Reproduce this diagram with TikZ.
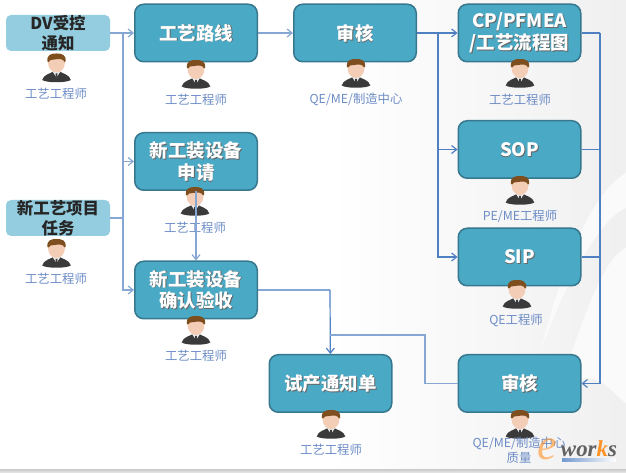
\documentclass[tikz,border=0pt]{standalone}
\usepackage{fontspec}
\setmainfont{Noto Sans CJK SC}
\newfontfamily\logofont{Liberation Serif}
\usepackage{xcolor}
\usetikzlibrary{arrows.meta}
\usetikzlibrary{positioning}
\usetikzlibrary{calc}
\definecolor{boxfill}{HTML}{4AA9C5}
\definecolor{boxline}{HTML}{37788F}
\definecolor{startfill}{HTML}{94CDE0}
\definecolor{rolecol}{HTML}{6C8CC6}
\definecolor{linecol}{HTML}{86A6D4}
\definecolor{linedark}{HTML}{4F80C2}
\definecolor{haircol}{HTML}{7E4E1E}
\definecolor{skincol}{HTML}{F3CDB6}
\definecolor{suitcol}{HTML}{3A3A3A}
\tikzset{
  proc/.style={draw=boxline,line width=1.5bp,fill=boxfill,rounded corners=9bp,minimum width=122.5bp,minimum height=57.5bp,outer sep=.75bp},
  start/.style={fill=startfill,rounded corners=5bp,minimum width=104bp,minimum height=36bp,outer sep=0pt},
  proctxt/.style={text=white,align=center,inner sep=0pt,font=\fontsize{18.5}{22}\selectfont\bfseries},
  starttxt/.style={text=black!85,align=center,inner sep=0pt,font=\fontsize{16.5}{20}\selectfont\bfseries},
  role/.style={text=rolecol,align=center,inner sep=0pt,font=\fontsize{12.4}{15}\selectfont},
  conn/.style={draw=linecol,line width=1.2bp},
  connd/.style={draw=linedark,line width=1.2bp},
  tip/.style={-{Straight Barb[length=5bp,width=8bp]}},
  person/.pic={
    \fill[suitcol] (-14.3bp,-26.5bp) .. controls (-13bp,-21bp) and (-6bp,-20bp) .. (-3bp,-18bp) -- (3bp,-18bp)
      .. controls (6bp,-20bp) and (13bp,-21bp) .. (14.3bp,-26.5bp) .. controls (10bp,-29.5bp) and (-10bp,-29.5bp) .. cycle;
    \fill[white!92!black] (-4bp,-18bp) -- (4bp,-18bp) -- (0bp,-24bp) -- cycle;
    \fill[suitcol] (-1bp,-20bp) -- (1bp,-20bp) -- (.8bp,-24bp) -- (-.8bp,-24bp) -- cycle;
    \fill[skincol] (0bp,-9.5bp) ellipse [x radius=8.4bp,y radius=9.5bp];
    \fill[haircol] (-9bp,-8bp) .. controls (-10bp,-1bp) and (-5bp,0bp) .. (0bp,0bp)
      .. controls (5bp,0bp) and (10bp,-1bp) .. (9bp,-8bp) -- (8bp,-8.5bp) .. controls (7bp,-5.5bp) and (3bp,-5bp) .. (-2bp,-6bp)
      .. controls (-5bp,-6.5bp) and (-7bp,-6bp) .. (-8bp,-8.5bp) -- cycle;
  },
}
\newcommand{\procnode}[3]{
  \node (#1) at (#2) [proc] {};
  \node (#1_s) at ($(#1)+(.9bp,-.9bp)$) [proctxt,text=black!60] {#3};
  \node (#1_t) at (#1) [proctxt] {#3};
}
\begin{document}
\begin{tikzpicture}
\useasboundingbox (0bp,0bp) rectangle (626bp,473bp);
%% background
\shade[left color=white,right color=black!6,shading angle=90] (330bp,3bp) rectangle (626bp,473bp);
\fill[black!2] (626bp,300bp) .. controls (590bp,280bp) and (560bp,200bp) .. (540bp,120bp) .. controls (565bp,190bp) and (600bp,255bp) .. (626bp,265bp) -- cycle;
\fill[black!2] (626bp,225bp) .. controls (600bp,215bp) and (575bp,130bp) .. (555bp,70bp) .. controls (590bp,120bp) and (610bp,80bp) .. (626bp,70bp) -- cycle;
\shade[top color=black!18,bottom color=black!8] (0bp,0bp) rectangle (626bp,3bp);
%% start boxes
\node (dv) at (58bp,440bp) [start] {};
\node (dv_t) at (dv) [starttxt] {DV受控\\通知};
\node (xm) at (58bp,255bp) [start] {};
\node (xm_t) at (xm) [starttxt] {新工艺项目\\任务};
%% process boxes
\procnode{lx}{196bp,440bp}{工艺路线}
\procnode{sq}{196bp,311.5bp}{新工装设备\\申请}
\procnode{qr}{196bp,183bp}{新工装设备\\确认验收}
\procnode{sh_a}{355bp,440bp}{审核}
\procnode{cp}{519.5bp,440bp}{CP/PFMEA\\/工艺流程图}
\procnode{sop}{519.5bp,323.5bp}{SOP}
\procnode{sip}{519.5bp,216bp}{SIP}
\procnode{sh_b}{519.5bp,89.5bp}{审核}
\procnode{sc}{330.5bp,89.5bp}{试产通知单}
%% people
\pic at (56.5bp,419.5bp) {person};
\pic at (196bp,413bp) {person};
\pic at (195bp,286bp) {person};
\pic at (56.5bp,234bp) {person};
\pic at (196bp,157bp) {person};
\pic at (356bp,414bp) {person};
\pic at (520bp,414bp) {person};
\pic at (520bp,297bp) {person};
\pic at (517bp,193bp) {person};
\pic at (520bp,63bp) {person};
\pic at (331bp,63bp) {person};
%% roles
\node (r_dv) at (56bp,379bp) [role] {工艺工程师};
\node (r_lx) at (196bp,373.5bp) [role] {工艺工程师};
\node (r_sq) at (195bp,245bp) [role] {工艺工程师};
\node (r_xm) at (56bp,194bp) [role] {工艺工程师};
\node (r_qr) at (196bp,117bp) [role] {工艺工程师};
\node (r_sa) at (356bp,373.5bp) [role] {QE/ME/制造中心};
\node (r_cp) at (520bp,373.5bp) [role] {工艺工程师};
\node (r_so) at (520bp,257bp) [role] {PE/ME工程师};
\node (r_si) at (516bp,153bp) [role] {QE工程师};
\node (r_sb) at (519bp,23bp) [role] {QE/ME/制造中心\\质量};
\node (r_sc) at (331bp,23bp) [role] {工艺工程师};
%% connectors
\coordinate (j_l) at (123bp,440bp);
\coordinate (j_m) at (438bp,440bp);
\coordinate (j_r) at (600bp,440bp);
\coordinate (j_q) at (330bp,183bp);
\coordinate (j_b) at (425bp,89.5bp);
\coordinate (j_c) at (330bp,138bp);
\draw [conn,tip] (dv) -- (lx);
\draw [conn,tip] (j_l) |- (sq);
\draw [conn,tip] (j_l) |- (qr);
\draw [conn] (xm) -- (xm -| j_l);
\draw [conn,tip] (lx) -- (sh_a);
\draw [conn,tip] (sq) -- (qr);
\draw [connd,tip] (sh_a) -- (cp);
\draw [connd,tip] (j_m) |- (sop);
\draw [connd,tip] (j_m) |- (sip);
\draw [connd] (cp) -- (j_r);
\draw [connd] (sop) -- (sop -| j_r);
\draw [connd] (sip) -- (sip -| j_r);
\draw [connd,tip] (j_r) |- (sh_b);
\draw [conn] (qr) -- (j_q);
\draw [connd,tip] (j_q) -- (sc);
\draw [conn] (sh_b) -- (j_b) |- (j_c);
%% watermark
\node (logo_e) at (547bp,24bp) [inner sep=0pt,text=orange!80,opacity=.65,font=\logofont\itshape\fontsize{44}{44}\selectfont] {e};
\node (logo_w) at (589bp,24bp) [inner sep=0pt,text=black!62,font=\logofont\bfseries\itshape\fontsize{23}{23}\selectfont] {wor\textcolor{orange!85}{k}s};
\shade [left color=linedark!80,right color=white] (562bp,11bp) rectangle (616bp,14bp);
\end{tikzpicture}
\end{document}
